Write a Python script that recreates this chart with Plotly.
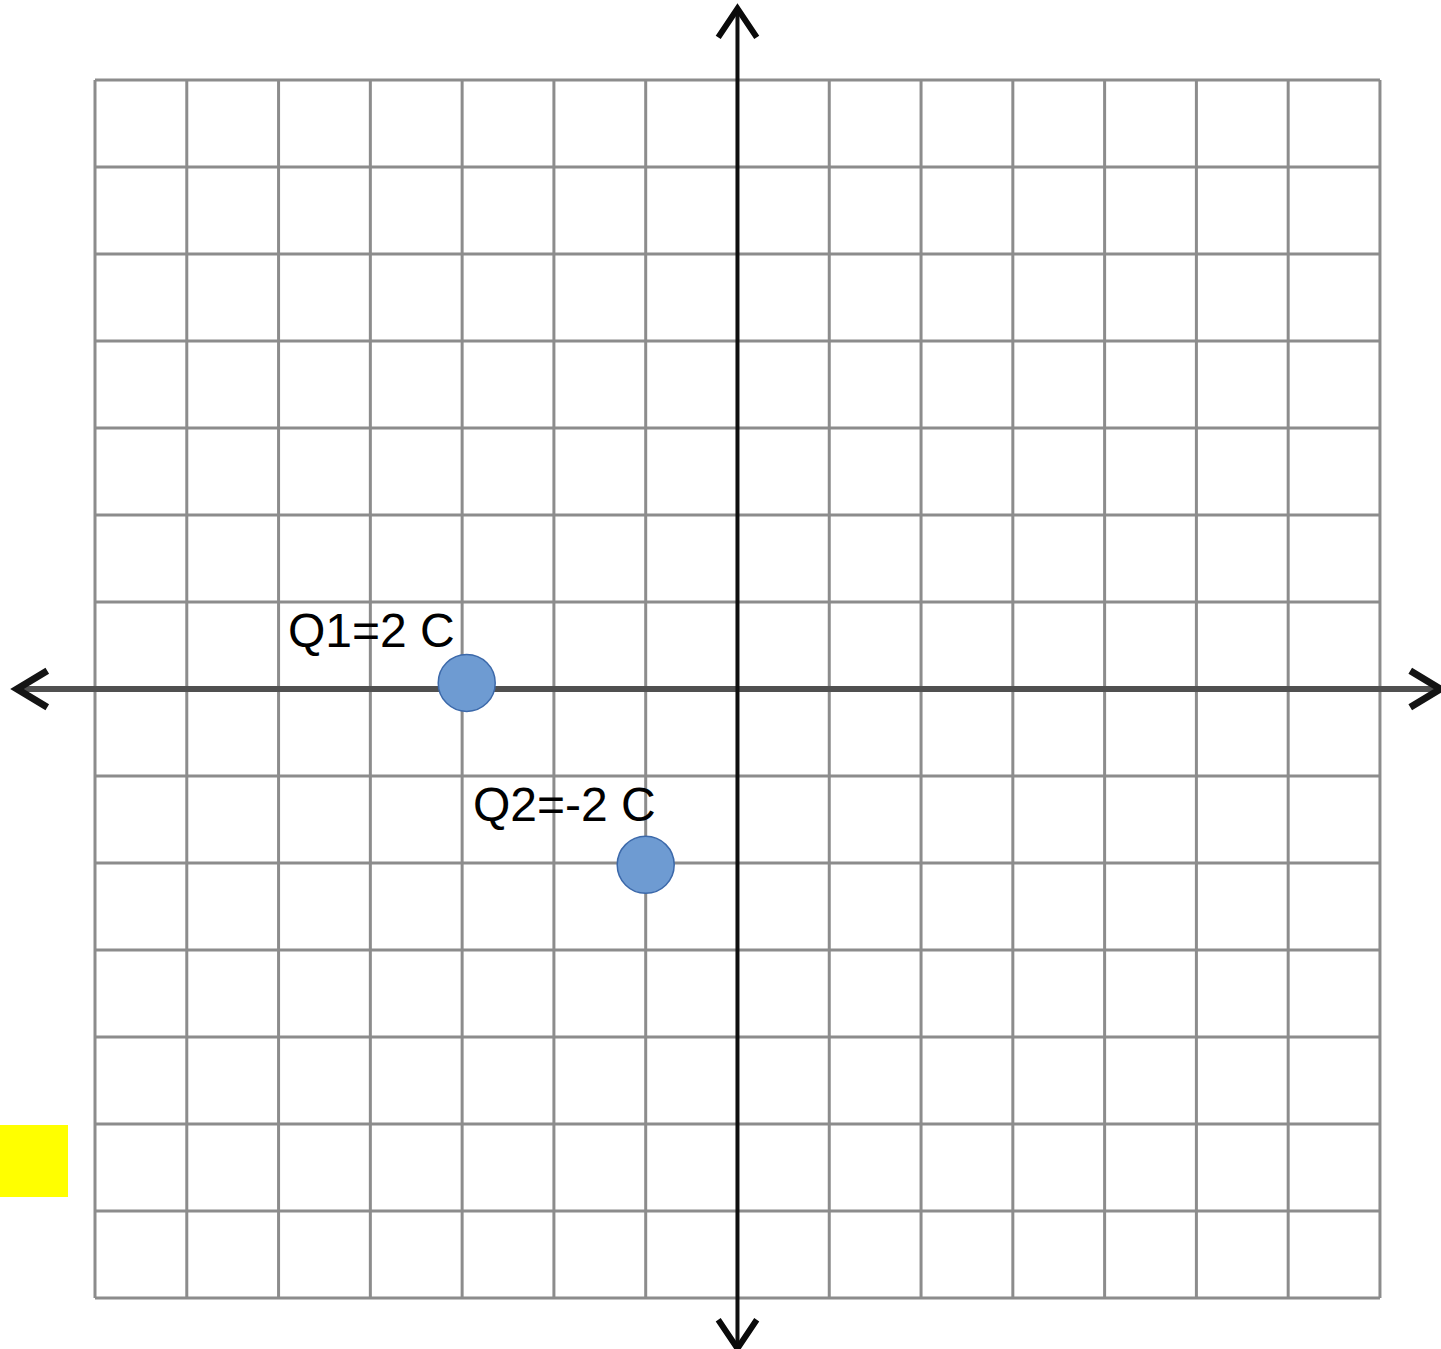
import plotly.graph_objects as go

# Grid (integer coordinates)
grid_x = list(range(-7, 8))
grid_y = list(range(-7, 8))

# Charges
charge_names = ["Q1=2 C", "Q2=-2 C"]
charge_x = [-2.95, -1.0]
charge_y = [0.07, -2.02]

# Label anchor positions (left edge / vertical middle)
label_x = [-4.92, -2.9]
label_y = [0.67, -1.33]

# Axis extents (arrow tips)
x_axis_ends = [-7.85, 7.66]
y_axis_ends = [-7.58, 7.82]

X_RANGE = [-8.035, 7.665]
Y_RANGE = [-7.586, 7.920]

fig = go.Figure()

# Grid lines
gx, gy = [], []
for v in grid_x:
    gx += [v, v, None]
    gy += [grid_y[0], grid_y[-1], None]
for v in grid_y:
    gx += [grid_x[0], grid_x[-1], None]
    gy += [v, v, None]
fig.add_trace(go.Scatter(x=gx, y=gy, mode="lines",
                         line=dict(color="rgb(140,140,140)", width=3),
                         hoverinfo="skip", showlegend=False))

# x axis line
fig.add_trace(go.Scatter(x=x_axis_ends, y=[0, 0], mode="lines",
                         line=dict(color="rgb(80,80,80)", width=6),
                         hoverinfo="skip", showlegend=False))
# y axis line
fig.add_trace(go.Scatter(x=[0, 0], y=y_axis_ends, mode="lines",
                         line=dict(color="rgb(15,15,15)", width=4),
                         hoverinfo="skip", showlegend=False))

# Arrowheads (open chevrons)
ax_dx, ax_dy = 0.33, 0.21   # horizontal arrows
ay_dx, ay_dy = 0.21, 0.33   # vertical arrows
L, R = x_axis_ends
B, T = y_axis_ends
chev_x = [L + ax_dx, L, L + ax_dx, None,
          R - ax_dx, R, R - ax_dx, None,
          -ay_dx, 0, ay_dx, None,
          -ay_dx, 0, ay_dx]
chev_y = [ax_dy, 0, -ax_dy, None,
          ax_dy, 0, -ax_dy, None,
          T - ay_dy, T, T - ay_dy, None,
          B + ay_dy, B, B + ay_dy]
fig.add_trace(go.Scatter(x=chev_x[:7], y=chev_y[:7], mode="lines",
                         line=dict(color="rgb(20,20,20)", width=7),
                         hoverinfo="skip", showlegend=False))
fig.add_trace(go.Scatter(x=chev_x[8:], y=chev_y[8:], mode="lines",
                         line=dict(color="rgb(10,10,10)", width=6),
                         hoverinfo="skip", showlegend=False))

# Charges
fig.add_trace(go.Scatter(x=charge_x, y=charge_y, mode="markers",
                         marker=dict(size=57, color="rgb(110,155,210)",
                                     line=dict(color="rgb(60,105,170)", width=1.5)),
                         hoverinfo="skip", showlegend=False))

# Labels
for name, lx, ly in zip(charge_names, label_x, label_y):
    fig.add_annotation(x=lx, y=ly, text=name, showarrow=False,
                       xanchor="left", yanchor="middle",
                       font=dict(family="Liberation Sans, Arial", size=48, color="black"))

# Yellow box
fig.add_shape(type="rect", xref="paper", yref="paper",
              x0=0, x1=68 / 1441, y0=1 - 1197 / 1349, y1=1 - 1125 / 1349,
              fillcolor="rgb(255,255,0)", line=dict(width=0), layer="above")

fig.update_layout(
    width=1441, height=1349,
    margin=dict(l=0, r=0, t=0, b=0),
    paper_bgcolor="white", plot_bgcolor="white",
    xaxis=dict(range=X_RANGE, visible=False, fixedrange=True),
    yaxis=dict(range=Y_RANGE, visible=False, fixedrange=True),
    showlegend=False,
)

fig.write_html("out.html", config={"displayModeBar": False},
               post_script="document.body.style.margin='0';document.body.style.overflow='hidden';")
